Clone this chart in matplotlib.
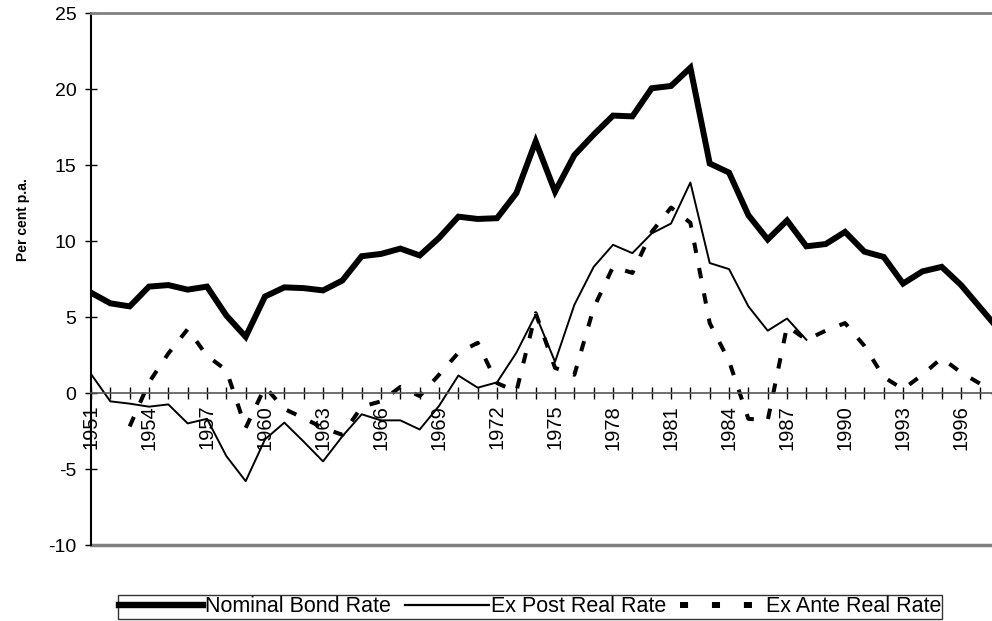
import numpy as np
import matplotlib
matplotlib.use('Agg')
import matplotlib.pyplot as plt
from matplotlib.lines import Line2D

plt.rcParams['font.family'] = ['Liberation Sans', 'DejaVu Sans']

# annual data, per cent p.a.
years_nom = list(range(1951, 1999))
nominal = [6.6, 5.9, 5.7, 7.0, 7.1, 6.8, 7.0, 5.1, 3.7, 6.35,
           6.95, 6.9, 6.75, 7.4, 9.0, 9.15, 9.5, 9.05, 10.2, 11.6,
           11.45, 11.5, 13.15, 16.55, 13.25, 15.65, 17.0, 18.25, 18.2, 20.05,
           20.2, 21.4, 15.1, 14.5, 11.7, 10.1, 11.35, 9.65, 9.8, 10.6,
           9.3, 8.95, 7.2, 8.0, 8.3, 7.1, 5.6, 4.1]

years_post = list(range(1951, 1989))
ex_post = [1.25, -0.55, -0.7, -0.9, -0.75, -2.0, -1.7, -4.15, -5.8, -3.05,
           -1.95, -3.2, -4.5, -2.85, -1.4, -1.8, -1.8, -2.4, -0.85, 1.15,
           0.35, 0.7, 2.65, 5.15, 2.05, 5.8, 8.3, 9.75, 9.2, 10.5,
           11.15, 13.85, 8.55, 8.15, 5.7, 4.1, 4.9, 3.5]

years_ante = list(range(1953, 1999))
ex_ante = [-2.2, 0.7, 2.6, 4.2, 2.45, 1.5, -2.3, 0.4, -1.05, -1.65,
           -2.3, -2.75, -0.9, -0.55, 0.4, -0.2, 1.2, 2.65, 3.3, 0.65,
           0.1, 5.25, 1.65, 1.2, 5.6, 8.3, 7.9, 10.6, 12.2, 11.2,
           4.6, 2.1, -1.7, -1.8, 4.4, 3.5, 4.1, 4.6, 3.1, 1.05,
           0.25, 1.2, 2.3, 1.35, 0.6, -0.3]

tick_years = list(range(1951, 1998))
y_ticks = [-10, -5, 0, 5, 10, 15, 20, 25]
names = ['Nominal Bond Rate', 'Ex Post Real Rate', 'Ex Ante Real Rate']

fig = plt.figure(figsize=(9.92, 6.21), dpi=100)
ax = fig.add_axes([91 / 992, 76 / 621, 1 - 91 / 992, 532 / 621])

ax.plot(years_nom, nominal, color='black', lw=4.3, solid_joinstyle='miter')
ax.plot(years_post, ex_post, color='black', lw=1.4)
ax.plot(years_ante, ex_ante, color='black', lw=2.9,
        linestyle=(0, (2.6, 3.8)), dash_capstyle='butt')

# category axis sits on the zero line
ax.spines['bottom'].set_position(('data', 0))
ax.spines['bottom'].set_color('#555555')
ax.spines['bottom'].set_linewidth(1.2)
ax.spines['right'].set_visible(False)
ax.spines['top'].set_color('#808080')
ax.spines['top'].set_linewidth(2)
ax.spines['left'].set_linewidth(1.5)
ax.axhline(-10, color='#808080', lw=2.5, clip_on=False)

ax.set_xticks(tick_years)
ax.set_xticklabels([str(y) if (y - 1951) % 3 == 0 else '' for y in tick_years],
                   rotation=90, fontsize=14.5)
ax.tick_params(axis='x', direction='inout', length=9, width=1, pad=4)

ax.set_yticks(y_ticks)
ax.set_yticklabels([str(v) for v in y_ticks], fontsize=14)
ax.tick_params(axis='y', direction='inout', length=9, width=1, pad=6)

# limits after the ticks, so set_xticks does not widen the view
ax.set_xlim(1951, 1997.6)
ax.set_ylim(-10, 25)

ax.set_ylabel('Per cent p.a.', fontsize=10, fontweight='bold')
ax.yaxis.set_label_coords(-0.068, 0.611)

# legend handles drawn a bit heavier than the series, as in the original
handles = [Line2D([], [], color='black', lw=4.6),
           Line2D([], [], color='black', lw=1.6),
           Line2D([], [], color='black', lw=4.3, linestyle=(0, (1.35, 4.0)),
                  dash_capstyle='butt')]
leg = fig.legend(handles, names, loc='center',
                 bbox_to_anchor=(530 / 992, 1 - 607 / 621),
                 ncol=3, fontsize=15.5, frameon=True, fancybox=False,
                 handlelength=3.9, handletextpad=0.1, columnspacing=0.65,
                 borderpad=0.05, borderaxespad=0)
leg.get_frame().set_edgecolor('black')
leg.get_frame().set_linewidth(1)

fig.savefig('out.png', dpi=100)
